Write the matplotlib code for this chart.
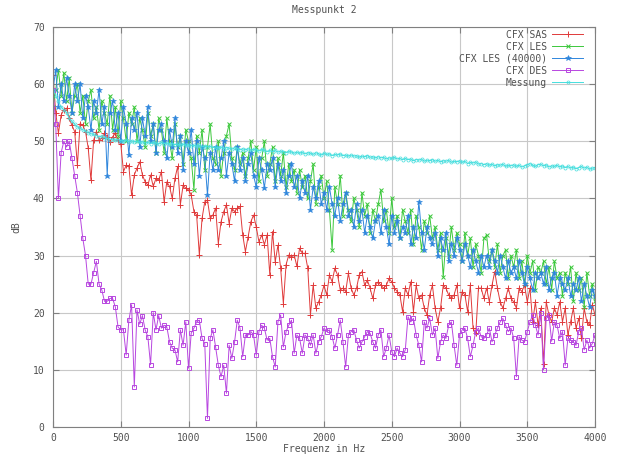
import numpy as np
import matplotlib
matplotlib.use('Agg')
import matplotlib.pyplot as plt

# Frequenzraster (Hz)
frequenz = np.arange(0, 4001, 20)

# CFX SAS
cfx_sas = [
    61.6, 55, 51.4, 54.6, 55.5, 55.8, 54, 52.8, 51.7, 45.8,
    53.1, 52.8, 51.7, 48.8, 43.2, 50.2, 51.7, 50.2, 50.5, 51.4,
    50.8, 49.9, 50.8, 51.4, 50.2, 49.6, 44.7, 45.8, 45.6, 40.6,
    44.1, 45.3, 46.4, 44.1, 42.9, 42.3, 44.1, 42.1, 43.5, 43.2,
    44.7, 39.4, 42.9, 42.1, 40, 43.5, 45.6, 38.9, 42.3, 41.8,
    41.5, 40.6, 37.7, 37.1, 30.1, 36.5, 39.4, 39.7, 36.5, 37.1,
    38.3, 32.1, 35.9, 37.7, 38.9, 35.6, 38.3, 37.7, 38.3, 38.6,
    33.6, 30.7, 33.3, 35.9, 37.1, 35, 32.4, 33.6, 31.9, 33.6,
    26.6, 34.2, 28.9, 31.8, 27.8, 21.6, 28.4, 30.1, 29.8, 30.1,
    28.1, 31.3, 30.4, 30.4, 27.8, 19.6, 24.8, 20.8, 21.9, 23.1,
    24.8, 23.1, 26.6, 25.4, 27.8, 26.6, 24, 24.3, 23.7, 26.9,
    24.3, 23.1, 24.3, 26.6, 27.2, 24.8, 25.7, 24.3, 22.5, 24.8,
    25.4, 24.8, 24.3, 24.8, 26, 25.4, 24.3, 23.7, 23.1, 20.2,
    24.3, 23.1, 25.4, 20.2, 24.8, 22.5, 23.1, 20.8, 19.6, 23.1,
    24.8, 20.8, 18.4, 20.8, 24.8, 24.3, 23.1, 22.5, 23.1, 24.8,
    20.8, 23.7, 23.1, 20.2, 24.8, 17.3, 16.4, 24.3, 24.3, 22.5,
    24.3, 21.9, 24.8, 27.2, 24.3, 21.9, 20.8, 22.5, 24.3, 22.5,
    21.9, 20.8, 24.3, 23.7, 24.8, 21.9, 24.3, 18.4, 21.9, 17.8,
    20.8, 11, 21.9, 19.6, 18.4, 20.8, 19.6, 21.9, 18.4, 20.8,
    16.1, 18.4, 20.8, 17.3, 19, 15.5, 20.8, 18.4, 17.8, 21.4,
    19.6,
]

# CFX LES
cfx_les = [
    56, 59, 62.5, 58, 62, 57, 61, 55, 58, 60,
    55, 58, 53, 57, 59, 54, 56, 52, 57, 55,
    53, 58, 52, 56, 51, 57, 54, 50, 55, 53,
    56, 50, 54, 52, 49, 55, 51, 53, 48, 54,
    52, 48, 54, 50, 47, 53, 49, 51, 46, 52,
    50, 47, 41.5, 51, 48, 52, 45, 49, 53, 47,
    46, 50, 44, 48, 51, 53, 47, 45, 49, 46,
    48, 44, 47, 50, 45, 49, 43, 47, 50, 44,
    46, 49, 43, 47, 44, 48, 42, 46, 43, 45,
    41, 45, 42, 44, 40, 43, 46, 39, 42, 44,
    40, 43, 38, 31, 42, 39, 44, 37, 41, 38,
    36, 40, 38, 35, 41, 37, 39, 34, 38, 36,
    39, 41.5, 36, 38, 34, 40, 35, 37, 33, 38,
    36, 34, 38, 32, 37, 35, 31, 36, 34, 37,
    33, 35, 31, 34, 26.2, 33, 30, 35, 31, 34,
    32, 29, 34, 30, 33, 28, 32, 30, 27, 33,
    33.6, 29, 31, 28, 32, 27, 30, 31, 26, 30,
    28, 31, 26, 29, 25, 30, 27, 29, 24, 28,
    27, 29, 25, 28, 24, 29, 26, 27, 23, 27,
    25, 28, 22, 27, 24, 26, 21, 27, 23, 25,
    22,
]

# CFX LES (40000)
cfx_les_40000 = [
    59, 62.5, 56, 60, 57, 61, 58, 55, 60, 57,
    60, 54, 58, 56, 52, 57, 55, 59, 53, 56,
    44, 55, 57, 52, 55, 50, 56, 53, 47.6, 54,
    52, 55, 49, 54, 51, 56, 50, 53, 48, 52,
    53, 50, 47, 52, 49, 54, 48, 51, 45, 50,
    48, 52, 46, 50, 44, 49, 47, 40.6, 48, 45,
    49, 45, 47, 50, 44, 48, 46, 43, 49, 45,
    47, 43, 46, 48, 44, 42, 47, 45, 41.8, 46,
    45, 47, 42, 46, 43, 45, 41, 44, 46, 42,
    44, 40, 43, 41, 44, 38, 42, 40, 43, 39,
    41, 38, 42, 39, 37, 40, 36, 39, 41, 37,
    38, 35, 39, 36, 38, 34, 37, 35, 33, 36,
    37, 34, 38, 35, 32, 37, 34, 36, 33, 35,
    34, 37, 32, 35, 33, 39.4, 34, 31, 35, 33,
    32, 34, 30, 33, 31, 34, 29, 32, 30, 33,
    31, 29, 32, 30, 28, 31, 29, 27, 30, 28,
    30, 28, 31, 29, 27, 30, 28, 26, 29, 27,
    28, 26, 29, 27, 25, 28, 26, 24, 27, 26,
    27, 25, 28, 24, 26, 27, 23, 26, 25, 24,
    26, 23, 25, 24, 26, 22, 25, 23, 21, 24,
    23,
]

# CFX DES
cfx_des = [
    59, 53, 40, 48, 50, 49, 50, 47, 44, 41,
    37, 33, 30, 25, 25, 27, 29, 25, 24, 22,
    22, 22.5, 22.5, 21, 17.5, 17, 17, 12.6, 18.7, 21.4,
    7, 20.5, 18, 19.5, 17, 15.8, 10.9, 20, 17, 19.5,
    17.3, 17.8, 17.5, 14.9, 13.8, 13.5, 11.4, 17, 14.3, 18.4,
    10.3, 16.4, 17.3, 18.4, 18.7, 15.5, 14.6, 1.5, 15.5, 17,
    14, 10.8, 8.8, 10.8, 5.9, 14.3, 12, 14.9, 18.7, 17.3,
    12.3, 16.1, 16.1, 16.7, 16.1, 12.6, 16.7, 17.8, 17.3, 15.2,
    15.5, 12.3, 10.5, 18.4, 19.6, 14, 16.7, 17.8, 18.7, 12.9,
    16.1, 15.5, 12.9, 16.1, 15.5, 14.3, 16.1, 12.9, 14.9, 15.8,
    17.3, 16.7, 17, 15.8, 13.8, 16.1, 18.7, 14.9, 10.5, 16.1,
    16.7, 17, 15.2, 13.8, 14.9, 15.8, 16.7, 16.4, 14.9, 13.8,
    16.1, 17, 12.3, 13.8, 16.1, 13.2, 12.3, 13.8, 12.9, 12.3,
    13.5, 19.3, 18.4, 19, 16.1, 14.3, 11.4, 18.4, 17.3, 19,
    16.1, 17.3, 12, 14.9, 16.1, 15.5, 17.8, 18.4, 14.3, 10.8,
    16.1, 17, 17.3, 15.5, 12.3, 14.3, 16.7, 17.3, 15.8, 15.5,
    16.1, 17.3, 14.9, 16.1, 17.3, 18.4, 19, 17.8, 16.7, 17.3,
    15.5, 8.8, 15.8, 15.2, 14.9, 16.7, 18.4, 19.6, 17.8, 16.1,
    19.9, 10, 19, 19.6, 15, 18.4, 17.8, 15.5, 16.7, 10.8,
    15.5, 15.2, 14.9, 14.3, 16.7, 17.3, 13.5, 15.2, 13.8, 14.6,
    16.1,
]

# Messung
messung = [
    59, 58, 57, 56, 55.5, 55, 54, 53.5, 53, 52.5,
    52.3, 52, 51.8, 51.5, 51.3, 51.2, 51, 50.8, 50.9, 50.6,
    50.5, 50.3, 50.4, 50.2, 50.3, 50.1, 50, 50.2, 49.9, 50.1,
    49.9, 50, 49.8, 49.9, 49.7, 49.8, 49.6, 49.8, 49.7, 49.5,
    49.8, 49.6, 49.7, 49.5, 49.6, 49.4, 49.5, 49.3, 49.5, 49.3,
    49.4, 49.2, 49.3, 49.1, 49.3, 49, 49.2, 49, 49.1, 48.9,
    49, 48.8, 49, 48.7, 48.9, 48.8, 48.6, 48.9, 48.7, 48.5,
    48.7, 48.5, 48.7, 48.4, 48.6, 48.5, 48.3, 48.6, 48.4, 48.2,
    48.4, 48.2, 48.4, 48.1, 48.3, 48.2, 48, 48.3, 48.1, 47.9,
    48.1, 47.9, 48.1, 47.8, 48, 47.9, 47.7, 48, 47.8, 47.6,
    47.9, 47.7, 47.8, 47.5, 47.7, 47.6, 47.8, 47.5, 47.6, 47.4,
    47.6, 47.4, 47.5, 47.2, 47.4, 47.3, 47.5, 47.2, 47.3, 47.1,
    47.3, 47.1, 47.2, 46.9, 47.1, 47, 47.2, 46.9, 47, 46.8,
    47, 46.8, 46.9, 46.6, 46.8, 46.7, 46.9, 46.5, 46.7, 46.6,
    46.8, 46.5, 46.7, 46.4, 46.6, 46.5, 46.7, 46.3, 46.5, 46.4,
    46.6, 46.3, 46.5, 46.1, 46.3, 46.2, 46.4, 46, 46.1, 45.9,
    46.1, 45.8, 46, 45.7, 45.9, 45.8, 46, 45.6, 45.8, 45.7,
    45.9, 45.6, 45.8, 45.5, 45.7, 45.9, 46.1, 45.8, 45.6, 45.9,
    46, 45.7, 45.9, 45.5, 45.7, 45.6, 45.8, 45.5, 45.7, 45.4,
    45.6, 45.3, 45.5, 45.2, 45.4, 45.6, 45.3, 45.5, 45.1, 45.3,
    45.4,
]

textfarbe = '#505050'
schrift = 'DejaVu Sans Mono'
groesse = 7

fig = plt.figure(figsize=(6.17, 4.55), dpi=100)
ax = fig.add_axes([53 / 617, 1 - 427 / 455, 542 / 617, 400 / 455])

ax.plot(frequenz, cfx_sas, label='CFX SAS', color='#e03a3a', marker='+',
        markersize=5, linewidth=0.7, markeredgewidth=0.7)
ax.plot(frequenz, cfx_les, label='CFX LES', color='#3cc83c', marker='x',
        markersize=3.5, linewidth=0.7, markeredgewidth=0.7)
ax.plot(frequenz, cfx_les_40000, label='CFX LES (40000)', color='#2f86dc', marker='*',
        markersize=4, linewidth=0.7, markeredgewidth=0.4)
ax.plot(frequenz, cfx_des, label='CFX DES', color='#b847e0', marker='s',
        markersize=3.5, linewidth=0.7, markeredgewidth=0.7, markerfacecolor='none')
ax.plot(frequenz, messung, label='Messung', color='#45dede', marker='o',
        markersize=2.2, linewidth=0.7, markeredgewidth=0.5, markerfacecolor='none')

ax.set_xlim(0, 4000)
ax.set_ylim(0, 70)
ax.set_xticks(np.arange(0, 4001, 500))
ax.set_yticks(np.arange(0, 71, 10))
ax.grid(True, color='#c8c8c8', linewidth=0.8)
ax.set_axisbelow(True)
ax.tick_params(direction='in', length=4, width=0.8, top=True, right=True,
               colors='#808080', labelcolor=textfarbe, labelsize=groesse)
ax.tick_params(axis='x', pad=4)
ax.tick_params(axis='y', pad=6)
for lbl in ax.get_xticklabels() + ax.get_yticklabels():
    lbl.set_fontfamily(schrift)
for s in ax.spines.values():
    s.set_color('#808080')
    s.set_linewidth(0.8)

ax.set_title('Messpunkt 2', fontsize=groesse, family=schrift, color=textfarbe, pad=10)
ax.set_xlabel('Frequenz in Hz', fontsize=groesse, family=schrift, color=textfarbe, labelpad=1)
ax.set_ylabel('dB', fontsize=groesse, family=schrift, color=textfarbe, labelpad=8)

leg = ax.legend(loc='upper right', bbox_to_anchor=(0.978, 0.993), frameon=False,
                markerfirst=False, borderpad=0, borderaxespad=0, handlelength=3.2,
                handletextpad=0.5, labelspacing=0.2,
                prop={'family': schrift, 'size': groesse})
for t in leg.get_texts():
    t.set_color(textfarbe)

plt.savefig('out.png', dpi=100)
